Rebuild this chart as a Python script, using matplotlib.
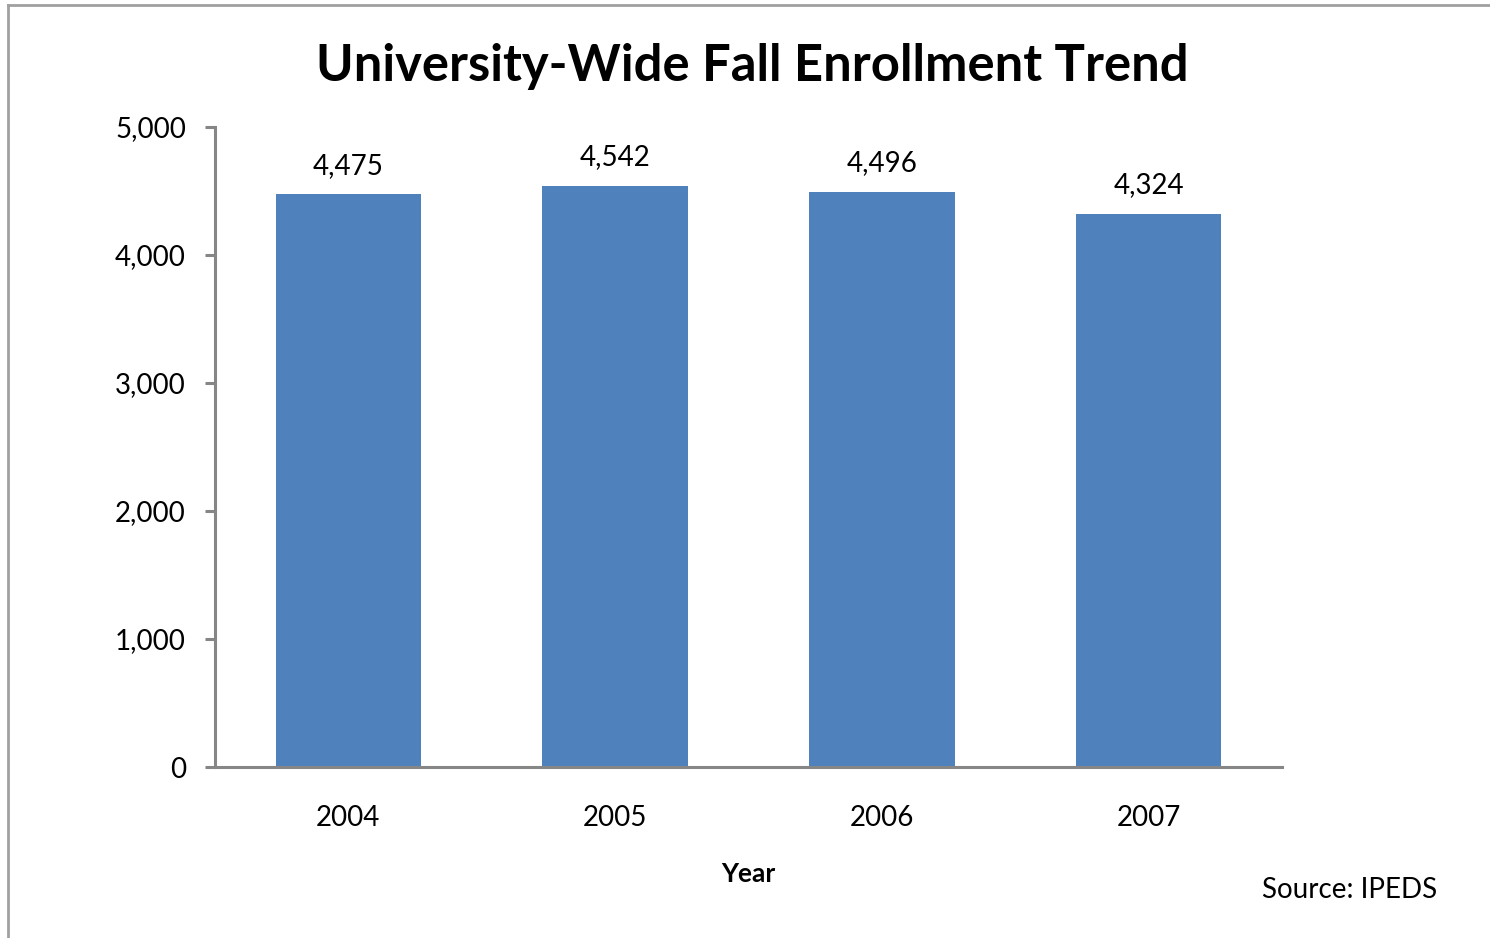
import matplotlib
matplotlib.use("Agg")
import matplotlib.pyplot as plt
from matplotlib.lines import Line2D
from matplotlib.ticker import FuncFormatter

years = ["2004", "2005", "2006", "2007"]
enrollment = [4475, 4542, 4496, 4324]
y_ticks = [0, 1000, 2000, 3000, 4000, 5000]

plt.rcParams['font.family'] = ['Lato', 'DejaVu Sans']

bar_color = '#4F81BD'
axis_gray = '#868686'

fig = plt.figure(figsize=(14.9, 9.38), dpi=100)
ax = fig.add_axes([215 / 1490, 1 - 767 / 938, 1067 / 1490, 640 / 938])

x = range(len(years))
bars = ax.bar(x, enrollment, width=0.545, color=bar_color, zorder=2)
for rect, v in zip(bars, enrollment):
    ax.annotate(f"{v:,}", (rect.get_x() + rect.get_width() / 2, v),
                xytext=(0, 11), textcoords='offset points',
                ha='center', va='bottom', fontsize=20, color='black')

ax.set_xlim(-0.5, len(years) - 0.5)
ax.set_ylim(0, 5000)
ax.set_xticks(list(x))
ax.set_xticklabels(years)
ax.set_yticks(y_ticks)
ax.yaxis.set_major_formatter(FuncFormatter(lambda v, p: f"{int(v):,}"))

for side in ['top', 'right']:
    ax.spines[side].set_visible(False)
for side in ['left', 'bottom']:
    ax.spines[side].set_color(axis_gray)
    ax.spines[side].set_linewidth(2.2)

ax.tick_params(axis='y', length=7, width=2.2, color=axis_gray, labelsize=20, pad=14)
ax.tick_params(axis='x', length=0, labelsize=20, pad=27)

ax.set_xlabel("Year", fontsize=19, fontweight='bold', labelpad=23)

fig.text(752 / 1490, 1 - 66 / 938, "University-Wide Fall Enrollment Trend",
         ha='center', va='center', fontsize=36.5, fontweight='bold')
fig.text(1437 / 1490, 1 - 890 / 938, "Source: IPEDS", ha='right', va='center', fontsize=20)

# outer chart frame (only left and top edges visible in the crop)
fig.add_artist(Line2D([8 / 1490, 8 / 1490], [0, 1 - 5 / 938], transform=fig.transFigure,
                      color='#A0A0A0', linewidth=2))
fig.add_artist(Line2D([8 / 1490, 1], [1 - 5 / 938, 1 - 5 / 938], transform=fig.transFigure,
                      color='#A0A0A0', linewidth=2))

fig.savefig("out.png", dpi=100, facecolor='white')
